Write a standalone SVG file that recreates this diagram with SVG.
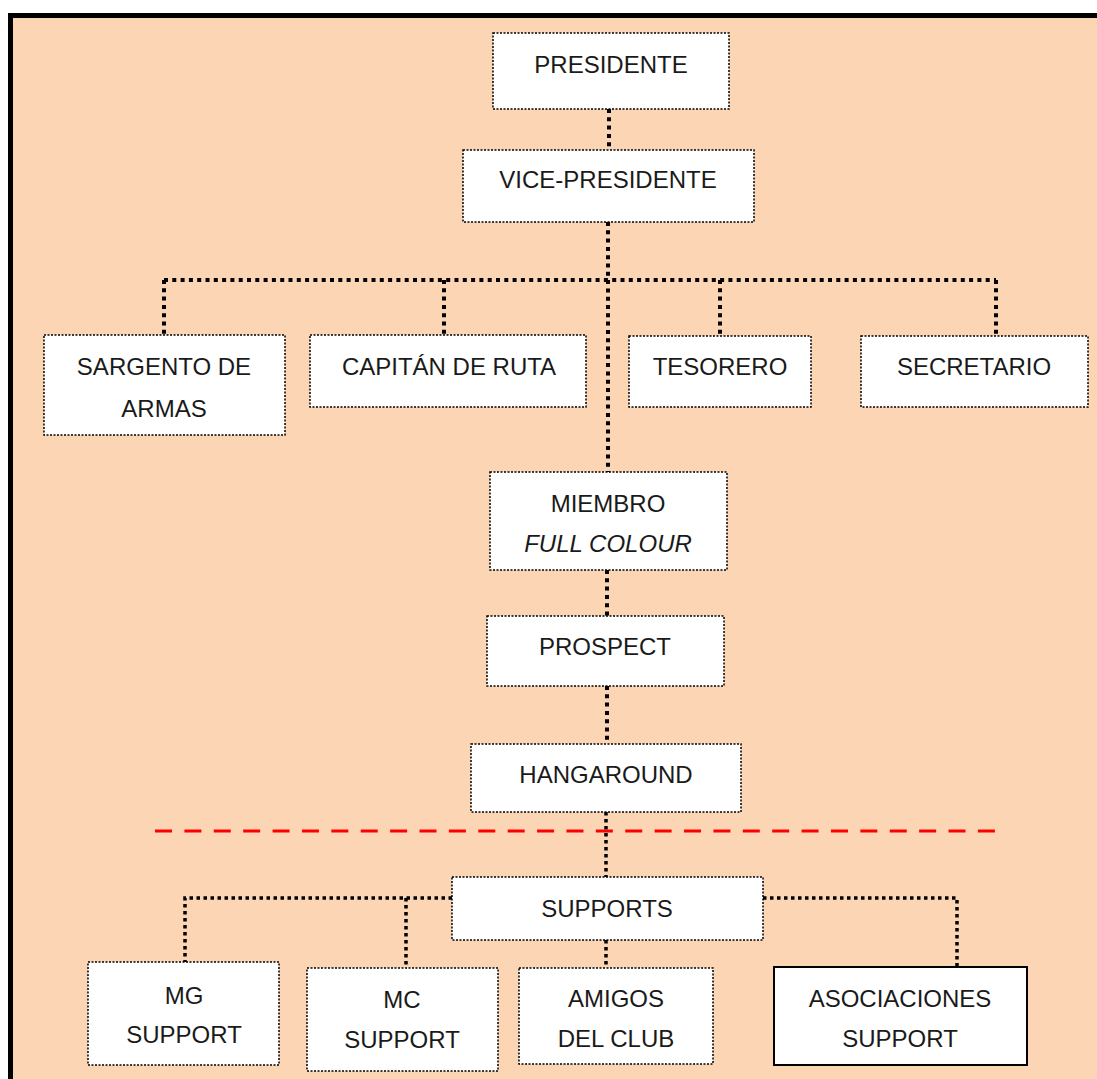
<svg xmlns="http://www.w3.org/2000/svg" width="1097" height="1079" viewBox="0 0 1097 1079">
<style>
.box{fill:#ffffff;stroke:#000;stroke-width:1.5;stroke-dasharray:2 1.5}
.solid{fill:#ffffff;stroke:#000;stroke-width:2}
.t{font-family:"Liberation Sans",Arial,sans-serif;font-size:24px;fill:#1a1a1a;text-anchor:middle}
.it{font-style:italic}
.con{fill:none;stroke:#000;stroke-width:4;stroke-dasharray:4 4.3}
.con2{fill:none;stroke:#000;stroke-width:3.5;stroke-dasharray:3.5 3.5}
.red{fill:none;stroke:#ff0000;stroke-width:3;stroke-dasharray:17 12.39}
</style>
<rect x="0" y="0" width="1097" height="1079" fill="#ffffff"/>
<rect x="10.5" y="15.5" width="1100" height="1100" fill="#FCD5B4" stroke="#000" stroke-width="5"/>
<g id="connectors">
<path class="con" d="M609 109V150"/>
<path class="con" d="M608 222V472"/>
<path class="con" d="M164 280H996"/>
<path class="con" d="M164 280V335M444 280V335M720 280V335M996 280V335"/>
<path class="con" d="M607 570V616"/>
<path class="con" d="M607 686V744"/>
<path class="con2" d="M606 812V877"/>
<path class="con2" d="M606 940V968"/>
<path class="con2" d="M452 898H185V962"/>
<path class="con2" d="M406 898V968"/>
<path class="con2" d="M763 898H957V967"/>
<path class="red" d="M155 831H995"/>
</g>
<g id="presidente"><rect class="box" x="493" y="33" width="236" height="76"/><text class="t" x="611" y="73">PRESIDENTE</text></g>
<g id="vicepresidente"><rect class="box" x="463" y="150" width="291" height="72"/><text class="t" x="608" y="188">VICE-PRESIDENTE</text></g>
<g id="sargento"><rect class="box" x="44" y="335" width="241" height="100"/><text class="t" x="164" y="375">SARGENTO DE</text><text class="t" x="164" y="417">ARMAS</text></g>
<g id="capitan"><rect class="box" x="310" y="335" width="276" height="72"/><text class="t" x="449" y="375">CAPITÁN DE RUTA</text></g>
<g id="tesorero"><rect class="box" x="629" y="336" width="182" height="71"/><text class="t" x="720" y="375">TESORERO</text></g>
<g id="secretario"><rect class="box" x="861" y="336" width="227" height="71"/><text class="t" x="974" y="375">SECRETARIO</text></g>
<g id="miembro"><rect class="box" x="490" y="472" width="237" height="98"/><text class="t" x="608" y="512">MIEMBRO</text><text class="t it" x="608" y="552">FULL COLOUR</text></g>
<g id="prospect"><rect class="box" x="487" y="616" width="237" height="70"/><text class="t" x="605" y="655">PROSPECT</text></g>
<g id="hangaround"><rect class="box" x="471" y="744" width="270" height="68"/><text class="t" x="606" y="783">HANGAROUND</text></g>
<g id="supports"><rect class="box" x="452" y="877" width="311" height="63"/><text class="t" x="607" y="917">SUPPORTS</text></g>
<g id="mg"><rect class="box" x="88" y="962" width="191" height="103"/><text class="t" x="184" y="1004">MG</text><text class="t" x="184" y="1043">SUPPORT</text></g>
<g id="mc"><rect class="box" x="307" y="968" width="191" height="103"/><text class="t" x="402" y="1008">MC</text><text class="t" x="402" y="1048">SUPPORT</text></g>
<g id="amigos"><rect class="box" x="519" y="968" width="194" height="96"/><text class="t" x="616" y="1007">AMIGOS</text><text class="t" x="616" y="1047">DEL CLUB</text></g>
<g id="asociaciones"><rect class="solid" x="774" y="967" width="253" height="98"/><text class="t" x="900" y="1007">ASOCIACIONES</text><text class="t" x="900" y="1047">SUPPORT</text></g>
</svg>
